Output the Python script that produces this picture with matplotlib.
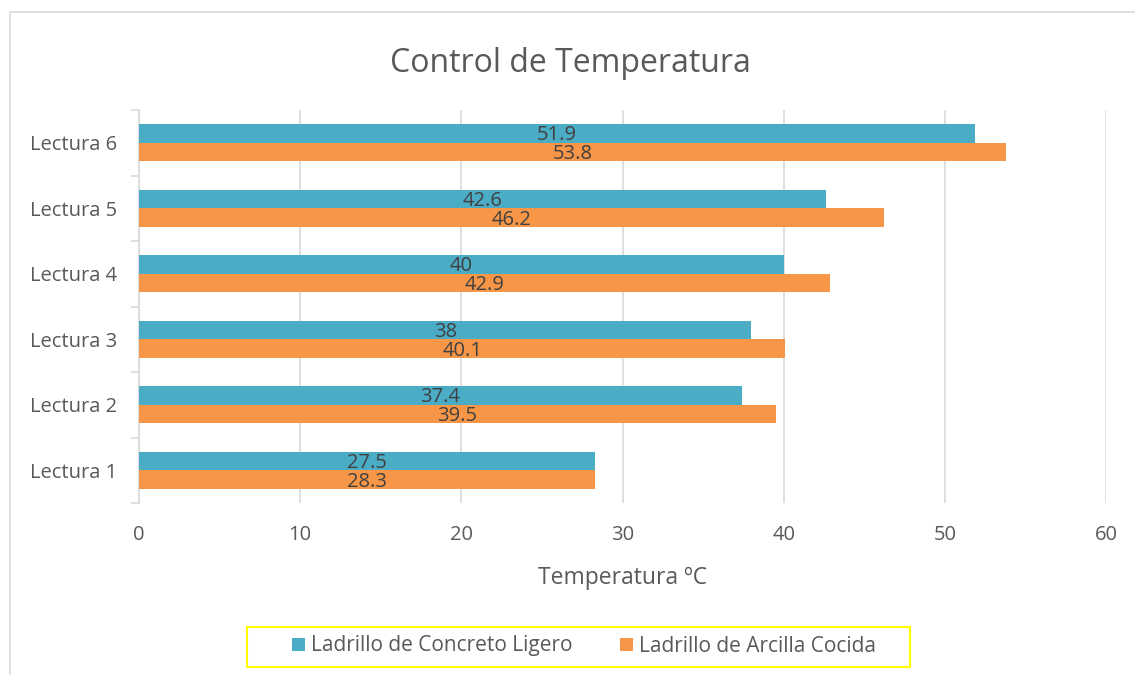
import numpy as np
import matplotlib.pyplot as plt
from matplotlib.patches import Rectangle

plt.rcParams['font.family'] = ['Open Sans', 'DejaVu Sans']

categorias = ["Lectura 1", "Lectura 2", "Lectura 3", "Lectura 4", "Lectura 5", "Lectura 6"]
# valores rotulados
concreto = [27.5, 37.4, 38, 40, 42.6, 51.9]
arcilla = [28.3, 39.5, 40.1, 42.9, 46.2, 53.8]
# largo dibujado de la barra de concreto (Lectura 1 aparece con 28.3 en el original)
concreto_largo = [28.3, 37.4, 38, 40, 42.6, 51.9]
ticks_x = [0, 10, 20, 30, 40, 50, 60]

c_concreto = "#4BACC6"
c_arcilla = "#F79646"
gris_texto = "#595959"
gris_linea = "#D9D9D9"

fig = plt.figure(figsize=(11.35, 6.75), dpi=100)
ax = fig.add_axes([139 / 1135, 1 - 503 / 675, (1106 - 139) / 1135, (503 - 110) / 675])

y = np.arange(len(categorias))
h = 0.285
ax.barh(y + h / 2, concreto_largo, height=h, color=c_concreto, zorder=3, label="Ladrillo de Concreto Ligero")
ax.barh(y - h / 2, arcilla, height=h, color=c_arcilla, zorder=3, label="Ladrillo de Arcilla Cocida")

for i in range(len(categorias)):
    ax.annotate(f"{concreto[i]:g}", (concreto_largo[i] / 2, y[i] + h / 2), xytext=(0, -1.5),
                textcoords="offset points", ha="center", va="center",
                fontsize=14.5, color="#404040", zorder=4)
    ax.annotate(f"{arcilla[i]:g}", (arcilla[i] / 2, y[i] - h / 2), xytext=(0, -1.5),
                textcoords="offset points", ha="center", va="center",
                fontsize=14.5, color="#404040", zorder=4)

ax.set_xlim(0, 60)
ax.set_ylim(-0.5, len(categorias) - 0.5)
ax.set_xticks(ticks_x)
ax.set_xticklabels([str(t) for t in ticks_x])
ax.set_yticks(y)
ax.set_yticklabels(categorias)
ax.set_yticks(np.arange(-0.5, len(categorias)), minor=True)
ax.tick_params(axis="y", which="major", length=0, pad=16, labelsize=14.5, labelcolor=gris_texto)
ax.tick_params(axis="y", which="minor", length=6, color=gris_linea, width=1.2)
ax.tick_params(axis="x", length=0, pad=16, labelsize=14.5, labelcolor=gris_texto)

ax.grid(axis="x", color=gris_linea, linewidth=1.2, zorder=0)
for s in ["top", "right", "bottom"]:
    ax.spines[s].set_visible(False)
ax.spines["left"].set_color(gris_linea)
ax.spines["left"].set_linewidth(1.2)

ax.set_xlabel("Temperatura ºC", fontsize=16.5, color=gris_texto, labelpad=15)
fig.text(570 / 1135, 1 - 63 / 675, "Control de Temperatura", ha="center", va="center",
         fontsize=23, color=gris_texto)

leg = fig.legend(loc="center", bbox_to_anchor=(584 / 1135, 1 - 646 / 675), ncol=2,
                 frameon=False, fontsize=15, handlelength=0.6, handleheight=0.6,
                 handletextpad=0.3, columnspacing=2.3, borderpad=0.3)
for t in leg.get_texts():
    t.set_color(gris_texto)

# recuadro amarillo de la leyenda
fig.patches.append(Rectangle((247 / 1135, 1 - 667 / 675), (910 - 247) / 1135, 40 / 675,
                             transform=fig.transFigure, fill=False, edgecolor="#FFFF00", linewidth=1.5))
# borde exterior del grafico
fig.patches.append(Rectangle((10 / 1135, -0.1), 2, 1.1 - 12 / 675, transform=fig.transFigure,
                             fill=False, edgecolor=gris_linea, linewidth=1.2))

fig.savefig("out.png", dpi=100)
